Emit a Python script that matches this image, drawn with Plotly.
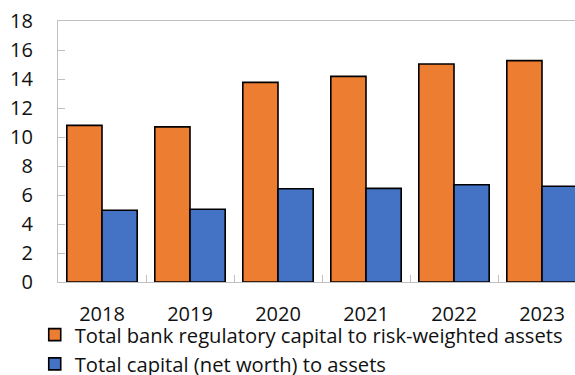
import plotly.graph_objects as go

# Bank capital ratios, percent
years = ["2018", "2019", "2020", "2021", "2022", "2023"]
regulatory_capital_to_rwa = [10.8, 10.7, 13.77, 14.18, 15.03, 15.27]
capital_to_assets = [4.95, 5.02, 6.43, 6.46, 6.71, 6.6]

series_names = [
    "Total bank regulatory capital to risk-weighted assets",
    "Total capital (net worth) to assets",
]
series_colors = ["#ED7D31", "#4472C4"]
y_ticks = [0, 2, 4, 6, 8, 10, 12, 14, 16, 18]

FONT = "Open Sans, Noto Sans, DejaVu Sans, sans-serif"
AXIS_GREY = "#BFBFBF"
TEXT = "#111111"

fig = go.Figure()
for name, values, color in zip(series_names,
                               [regulatory_capital_to_rwa, capital_to_assets],
                               series_colors):
    fig.add_trace(go.Bar(
        x=years,
        y=values,
        name=name,
        marker=dict(color=color, line=dict(color="#000000", width=1.6)),
    ))

width, height = 575, 375
left, bottom, top = 58, 93, 21
plot_w = width - left
plot_h = height - top - bottom
pitch = 88  # pixels per category
x_span = plot_w / pitch

fig.update_layout(
    width=width,
    height=height,
    margin=dict(l=left, r=0, t=top, b=bottom, pad=0, autoexpand=False),
    paper_bgcolor="white",
    plot_bgcolor="white",
    barmode="group",
    bargap=0.2,
    bargroupgap=0,
    font=dict(family=FONT, size=20, color=TEXT),
    showlegend=True,
    legend=dict(
        orientation="v",
        x=-0.045,
        xanchor="left",
        y=-33 / plot_h,
        yanchor="top",
        font=dict(family=FONT, size=20.2, color=TEXT),
        bgcolor="rgba(0,0,0,0)",
        borderwidth=0,
        itemclick=False,
        traceorder="normal",
    ),
    xaxis=dict(
        type="category",
        range=[-0.5, -0.5 + x_span],
        showgrid=False,
        showline=True,
        linecolor=AXIS_GREY,
        linewidth=1.2,
        mirror=True,
        ticks="inside",
        tickson="boundaries",
        ticklen=7,
        tickcolor=AXIS_GREY,
        ticklabelstandoff=14,
        tickfont=dict(family=FONT, size=20, color=TEXT),
        zeroline=False,
    ),
    yaxis=dict(
        range=[0, 18],
        tickvals=y_ticks,
        showgrid=False,
        showline=True,
        linecolor=AXIS_GREY,
        linewidth=1.2,
        ticks="inside",
        ticklen=7,
        tickcolor=AXIS_GREY,
        ticklabelstandoff=20,
        tickfont=dict(family=FONT, size=20, color=TEXT),
        zeroline=False,
    ),
)

fig.write_html("out.html")
